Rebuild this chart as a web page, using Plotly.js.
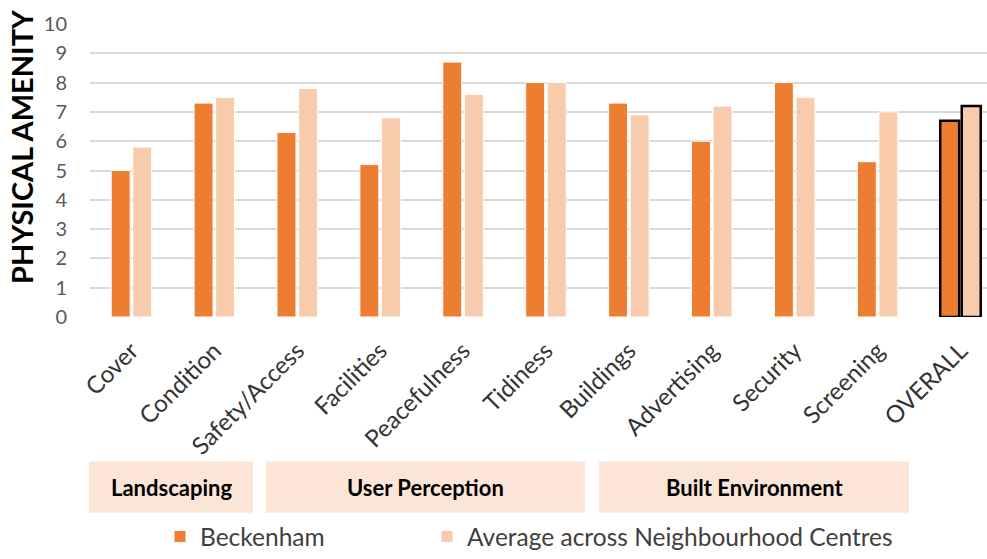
<!DOCTYPE html>
<html>
<head>
<meta charset="utf-8">
<script src="https://cdn.plot.ly/plotly-3.0.1.min.js"></script>
<style>
html,body{margin:0;padding:0;background:#fff;}
#chart{width:987px;height:559px;}
</style>
</head>
<body>
<div id="chart"></div>
<script>
const categories = ["Cover","Condition","Safety/Access","Facilities","Peacefulness","Tidiness","Buildings","Advertising","Security","Screening","OVERALL"];
const beckenham = [5.0, 7.3, 6.3, 5.2, 8.7, 8.0, 7.3, 6.0, 8.0, 5.3, 6.7];
const average   = [5.8, 7.5, 7.8, 6.8, 7.6, 8.0, 6.9, 7.2, 7.5, 7.0, 7.2];
const seriesNames = ["Beckenham", "Average across Neighbourhood Centres"];
const groupLabels = ["Landscaping", "User Perception", "Built Environment"];
const yTitle = "PHYSICAL AMENITY";
const yTicks = [0,1,2,3,4,5,6,7,8,9,10];

const FONT = "Lato, 'Open Sans', sans-serif";
const PW = 897, PH = 298, L = 90, T = 24;
function px2x(p){ return (p - L) / PW; }
function py2y(p){ return (T + PH - p) / PH; }

const lineColors = categories.map(c => c === "OVERALL" ? "#000000" : "#ffffff");
const lineWidths = categories.map(c => c === "OVERALL" ? 2.5 : 1);

const traces = [
  {type:"bar", name:seriesNames[0], x:categories, y:beckenham, legend:"legend",
   marker:{color:"#ED7D31", line:{color:lineColors, width:lineWidths}}},
  {type:"bar", name:seriesNames[1], x:categories, y:average, legend:"legend2",
   marker:{color:"#F8CBAD", line:{color:lineColors, width:lineWidths}}}
];

const boxes = [[89,253],[266,585],[599,909]];
const shapes = boxes.map(b => ({
  type:"rect", xref:"paper", yref:"paper",
  x0:px2x(b[0]), x1:px2x(b[1]), y0:py2y(521), y1:py2y(469),
  fillcolor:"#FBE5D6", line:{width:0}, layer:"below"
}));
const annotations = boxes.map((b,i) => ({
  xref:"paper", yref:"paper", x:px2x((b[0]+b[1])/2), y:py2y(495),
  text:"<b>"+groupLabels[i]+"</b>", showarrow:false,
  font:{family:FONT, size:22, color:"#000000"}, xanchor:"center", yanchor:"middle"
}));
annotations.push({
  xref:"paper", yref:"paper", x:px2x(22), y:py2y(149),
  text:"<b>"+yTitle+"</b>", showarrow:false, textangle:-90,
  font:{family:FONT, size:29, color:"#000000"}, xanchor:"center", yanchor:"middle"
});

const legendCommon = {orientation:"h", xref:"paper", yref:"paper",
  xanchor:"left", yanchor:"middle",
  font:{family:FONT, size:24.5, color:"#404040"}, bgcolor:"rgba(0,0,0,0)"};

const layout = {
  width:987, height:559,
  margin:{l:L, r:0, t:T, b:559-T-PH},
  paper_bgcolor:"#ffffff", plot_bgcolor:"#ffffff",
  barmode:"group", bargap:0.48, bargroupgap:0.12,
  font:{family:FONT},
  xaxis:{
    range:[-0.5, 10.32], tickangle:-45, showgrid:false, zeroline:false,
    showline:false, ticks:"", ticklabelstandoff:14,
    tickfont:{family:FONT, size:24, color:"#333333"}
  },
  yaxis:{
    range:[0,10], tickvals:yTicks, showgrid:true, gridcolor:"#D9D9D9", gridwidth:2,
    zeroline:false, showline:false, ticks:"", ticklabelstandoff:22,
    tickfont:{family:FONT, size:20, color:"#595959"}
  },
  showlegend:true,
  legend:Object.assign({x:px2x(160), y:py2y(546)}, legendCommon),
  legend2:Object.assign({x:px2x(427), y:py2y(546)}, legendCommon),
  shapes:shapes, annotations:annotations
};

Plotly.newPlot("chart", traces, layout, {displayModeBar:false, staticPlot:true});
</script>
</body>
</html>
